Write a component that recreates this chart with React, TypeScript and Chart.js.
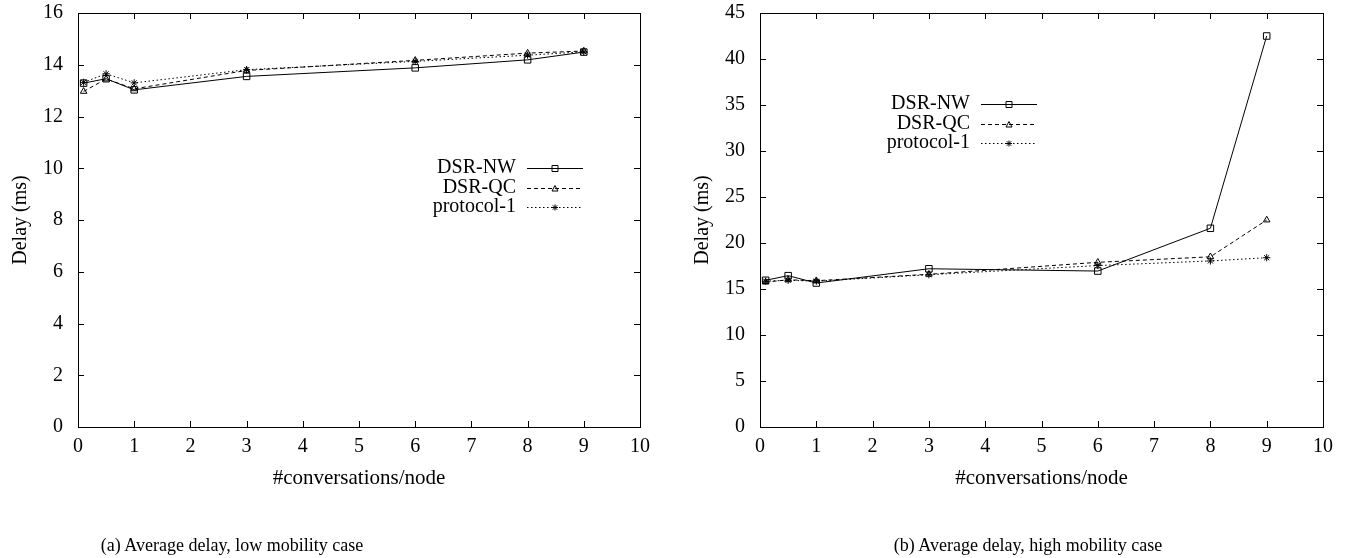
import React, { useEffect, useRef } from 'react';
import { Chart, registerables } from 'chart.js';

Chart.register(...registerables);

const xValues = [0.1, 0.5, 1, 3, 6, 8, 9];
const seriesNames = ['DSR-NW', 'DSR-QC', 'protocol-1'];

const lowNW = [13.29, 13.46, 13.03, 13.55, 13.88, 14.19, 14.49];
const lowQC = [12.97, 13.45, 13.07, 13.78, 14.17, 14.45, 14.53];
const lowP1 = [13.32, 13.65, 13.3, 13.81, 14.13, 14.37, 14.5];

const highNW = [15.95, 16.45, 15.65, 17.2, 16.95, 21.6, 42.5];
const highQC = [15.75, 16.0, 15.9, 16.6, 17.9, 18.5, 22.5];
const highP1 = [15.85, 15.95, 15.85, 16.55, 17.55, 18.05, 18.4];

const xTitle = '#conversations/node';
const yTitle = 'Delay (ms)';
const captions = ['(a) Average delay, low mobility case', '(b) Average delay, high mobility case'];

const FONT = '"Liberation Serif", "Times New Roman", serif';

const styles = [
  { dash: [] as number[], marker: 'rect' },
  { dash: [4, 3], marker: 'triangle' },
  { dash: [1.5, 2.5], marker: 'star' },
];

function drawMarker(ctx: CanvasRenderingContext2D, kind: string, x: number, y: number) {
  ctx.save();
  ctx.setLineDash([]);
  ctx.strokeStyle = '#000';
  ctx.lineWidth = 1;
  ctx.beginPath();
  if (kind === 'rect') {
    ctx.rect(x - 3, y - 3, 6, 6);
  } else if (kind === 'triangle') {
    ctx.moveTo(x - 3, y + 2.5);
    ctx.lineTo(x + 3, y + 2.5);
    ctx.lineTo(x, y - 3);
    ctx.closePath();
  } else {
    const r = 3;
    ctx.moveTo(x - r, y); ctx.lineTo(x + r, y);
    ctx.moveTo(x, y - r); ctx.lineTo(x, y + r);
    ctx.moveTo(x - r * 0.75, y - r * 0.75); ctx.lineTo(x + r * 0.75, y + r * 0.75);
    ctx.moveTo(x - r * 0.75, y + r * 0.75); ctx.lineTo(x + r * 0.75, y - r * 0.75);
  }
  ctx.stroke();
  ctx.restore();
}

const decorPlugin = {
  id: 'decor',
  afterDatasetsDraw(chart: any) {
    const ctx: CanvasRenderingContext2D = chart.ctx;
    const a = chart.chartArea;
    const o = chart.options.plugins.decor;
    const xs = chart.scales.x;
    const ys = chart.scales.y;
    ctx.save();
    ctx.strokeStyle = '#000';
    ctx.lineWidth = 1;
    ctx.setLineDash([]);
    ctx.strokeRect(Math.round(a.left) + 0.5, Math.round(a.top) + 0.5, Math.round(a.right - a.left), Math.round(a.bottom - a.top));
    const tl = 6;
    ctx.beginPath();
    xs.ticks.forEach((t: any) => {
      const px = Math.round(xs.getPixelForValue(t.value)) + 0.5;
      ctx.moveTo(px, a.bottom); ctx.lineTo(px, a.bottom - tl);
      ctx.moveTo(px, a.top); ctx.lineTo(px, a.top + tl);
    });
    ys.ticks.forEach((t: any) => {
      const py = Math.round(ys.getPixelForValue(t.value)) + 0.5;
      ctx.moveTo(a.left, py); ctx.lineTo(a.left + tl, py);
      ctx.moveTo(a.right, py); ctx.lineTo(a.right - tl, py);
    });
    ctx.stroke();
    ctx.fillStyle = '#000';
    ctx.textAlign = 'center';
    ctx.textBaseline = 'middle';
    ctx.font = `21px ${FONT}`;
    ctx.fillText(xTitle, (a.left + a.right) / 2, a.bottom + 51);
    ctx.font = `20px ${FONT}`;
    ctx.save();
    ctx.translate(a.left - 57, (a.top + a.bottom) / 2);
    ctx.rotate(-Math.PI / 2);
    ctx.fillText(yTitle, 0, 0);
    ctx.restore();
    chart.data.datasets.forEach((ds: any, i: number) => {
      const y = a.top + o.legendTop + i * 19.5;
      ctx.textAlign = 'right';
      ctx.fillText(ds.label, a.left + o.legendText, y);
      const x0 = a.left + o.legendText + 11;
      const x1 = x0 + 56;
      ctx.save();
      ctx.setLineDash(styles[i].dash);
      ctx.beginPath();
      ctx.moveTo(x0, Math.round(y) + 0.5);
      ctx.lineTo(x1, Math.round(y) + 0.5);
      ctx.stroke();
      ctx.restore();
      drawMarker(ctx, styles[i].marker, (x0 + x1) / 2, Math.round(y) + 0.5);
    });
    ctx.restore();
  },
};

function makeDatasets(values: number[][]) {
  return values.map((vals, i) => ({
    label: seriesNames[i],
    data: xValues.map((x, j) => ({ x, y: vals[j] })),
    borderColor: '#000',
    backgroundColor: 'transparent',
    borderWidth: 1,
    borderDash: styles[i].dash,
    pointStyle: styles[i].marker,
    pointRadius: styles[i].marker === 'rect' ? 4.6 : styles[i].marker === 'triangle' ? 3.8 : 3.6,
    pointBorderWidth: 1,
    pointBorderColor: '#000',
    pointBackgroundColor: 'transparent',
    tension: 0,
  }));
}

function ChartBox(props: {
  left: number; width: number; yMax: number; yStep: number; values: number[][];
  yAxisWidth: number; padRight: number; legendText: number; legendTop: number;
}) {
  const ref = useRef<HTMLCanvasElement>(null);
  useEffect(() => {
    const chart = new Chart(ref.current as HTMLCanvasElement, {
      type: 'line',
      data: { datasets: makeDatasets(props.values) as any },
      plugins: [decorPlugin],
      options: {
        animation: false,
        responsive: false,
        maintainAspectRatio: false,
        layout: { padding: { left: 0, right: props.padRight, top: 13, bottom: 0 } },
        plugins: {
          legend: { display: false },
          tooltip: { enabled: false },
          decor: { legendText: props.legendText, legendTop: props.legendTop },
        } as any,
        scales: {
          x: {
            type: 'linear',
            min: 0,
            max: 10,
            ticks: { stepSize: 1, color: '#000', font: { family: FONT, size: 20 }, padding: 8, maxRotation: 0 },
            grid: { display: false, drawTicks: false },
            border: { display: false },
            afterFit: (s: any) => { s.height = 131; s.paddingLeft = 0; s.paddingRight = 0; },
          },
          y: {
            type: 'linear',
            min: 0,
            max: props.yMax,
            ticks: { stepSize: props.yStep, color: '#000', font: { family: FONT, size: 20 }, padding: 15 },
            grid: { display: false, drawTicks: false },
            border: { display: false },
            afterFit: (s: any) => { s.width = props.yAxisWidth; s.paddingTop = 0; s.paddingBottom = 0; },
          },
        },
      } as any,
    });
    return () => chart.destroy();
  }, []);
  return (
    <canvas
      ref={ref}
      width={props.width}
      height={558}
      style={{ position: 'absolute', left: props.left, top: 0, width: props.width, height: 558 }}
    />
  );
}

export default function App() {
  const capStyle: React.CSSProperties = {
    position: 'absolute', top: 533, fontFamily: FONT, fontSize: 18, color: '#000',
    whiteSpace: 'nowrap', transform: 'translateX(-50%)', lineHeight: '24px',
  };
  return (
    <div style={{ position: 'absolute', left: 0, top: 0, width: 1349, height: 558, background: '#fff', overflow: 'hidden' }}>
      <ChartBox left={0} width={680} yMax={16} yStep={2} values={[lowNW, lowQC, lowP1]}
        yAxisWidth={78} padRight={40} legendText={438} legendTop={155} />
      <ChartBox left={680} width={669} yMax={45} yStep={5} values={[highNW, highQC, highP1]}
        yAxisWidth={80} padRight={26} legendText={210} legendTop={91} />
      <div style={{ ...capStyle, left: 232 }}>{captions[0]}</div>
      <div style={{ ...capStyle, left: 1028 }}>{captions[1]}</div>
    </div>
  );
}
